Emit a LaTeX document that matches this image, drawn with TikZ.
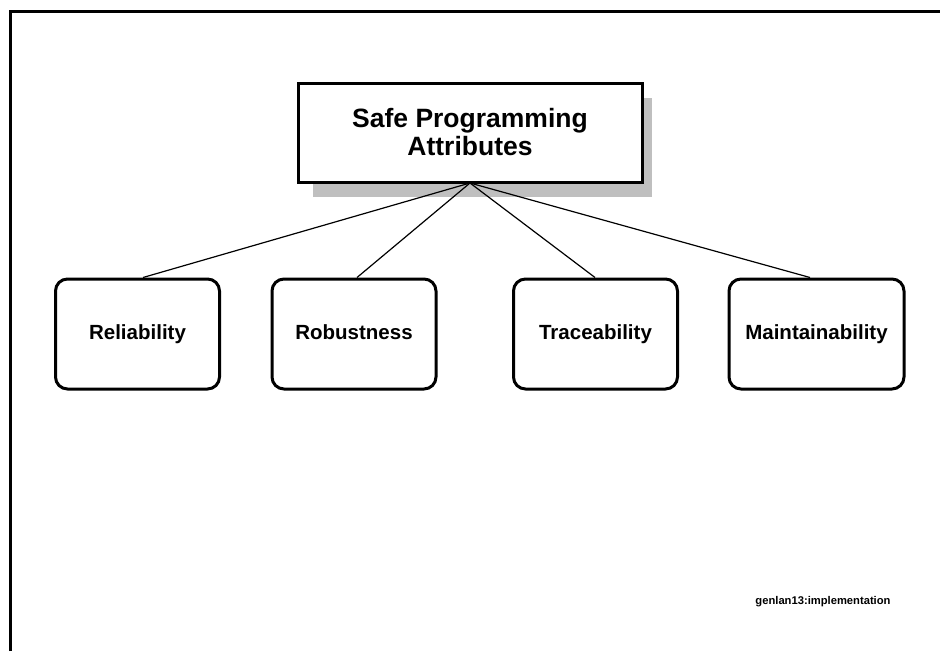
\documentclass[tikz,border=0pt]{standalone}
\usepackage{fontspec}
\setmainfont{Liberation Sans}
\begin{document}
\begin{tikzpicture}[x=1pt,y=-1pt,
  attr/.style={draw=black, line width=3pt, rounded corners=12pt, fill=white,
    minimum width=164pt, minimum height=110pt, inner sep=0pt,
    text height=15pt, text depth=4pt,
    font=\fontsize{20.5}{24}\selectfont\bfseries},
  topbox/.style={draw=black, line width=3pt, fill=white,
    minimum width=344pt, minimum height=99pt, inner sep=0pt, align=center,
    font=\fontsize{26.5}{28}\selectfont\bfseries},
  link/.style={line width=1.2pt}]
\useasboundingbox (0,0) rectangle (940,651);
% frame
\draw[line width=3pt] (10,651) -- (10,11) -- (940,11);
% shadow of title box
\fill[gray!50] (313,98) rectangle (652,197);
\node[topbox] (top) at (470,132.5) {Safe Programming\\Attributes};
\coordinate (hub) at (470,183);
\node[attr] (rel) at (137.5,334) {Reliability};
\node[attr] (rob) at (354,334) {Robustness};
\node[attr] (tra) at (595.5,334) {Traceability};
\node[attr, minimum width=175pt] (mai) at (816.5,334) {Maintainability};
\draw[link] (hub) -- (rel.north -| 143,0);
\draw[link] (hub) -- (rob.north -| 357,0);
\draw[link] (hub) -- (tra.north -| 595,0);
\draw[link] (hub) -- (mai.north -| 810,0);
\node[font=\fontsize{11.2}{13}\selectfont\bfseries, inner sep=0pt] (foot) at (823,602) {genlan13:implementation};
\end{tikzpicture}
\end{document}
